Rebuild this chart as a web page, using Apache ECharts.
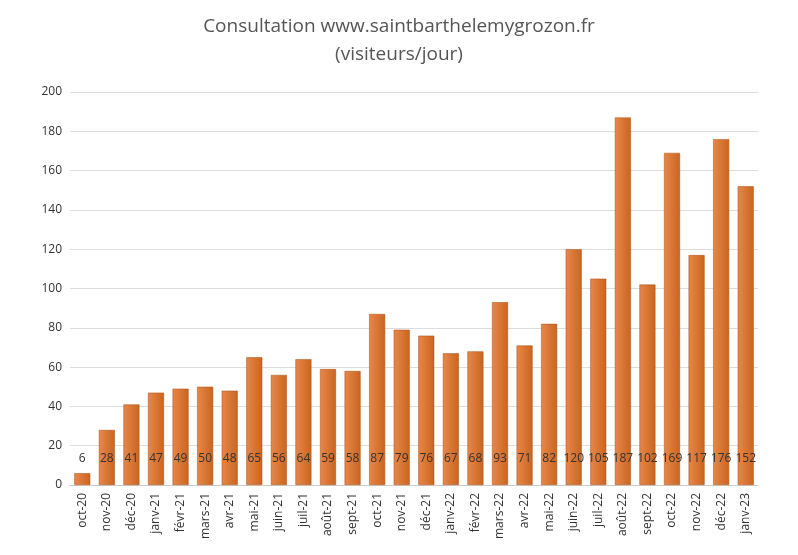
<!DOCTYPE html>
<html><head><meta charset="utf-8">
<script src="https://cdn.jsdelivr.net/npm/echarts@6/dist/echarts.min.js"></script>
<style>html,body{margin:0;padding:0;background:#fff}#c{width:798px;height:555px}</style>
</head><body><div id="c"></div>
<script>
const categories = ["oct-20","nov-20","déc-20","janv-21","févr-21","mars-21","avr-21","mai-21","juin-21","juil-21","août-21","sept-21","oct-21","nov-21","déc-21","janv-22","févr-22","mars-22","avr-22","mai-22","juin-22","juil-22","août-22","sept-22","oct-22","nov-22","déc-22","janv-23"];
const visitors = [6,28,41,47,49,50,48,65,56,64,59,58,87,79,76,67,68,93,71,82,120,105,187,102,169,117,176,152];
const yTicks = {min:0,max:200,interval:20};
const chart = echarts.init(document.getElementById('c'));
chart.setOption({
  title:{text:'Consultation www.saintbarthelemygrozon.fr\n(visiteurs/jour)',left:'center',top:8,
    textStyle:{fontFamily:'Open Sans',fontWeight:'normal',fontSize:19,color:'#555',lineHeight:28}},
  grid:{left:70,right:40,top:92,bottom:70},
  xAxis:{type:'category',data:categories,axisTick:{show:false},
    axisLine:{lineStyle:{color:'#ccc'}},
    axisLabel:{rotate:90,color:'#333',fontFamily:'Open Sans',fontSize:12,interval:0}},
  yAxis:{type:'value',min:yTicks.min,max:yTicks.max,interval:yTicks.interval,
    axisLabel:{color:'#333',fontFamily:'Open Sans',fontSize:12},
    splitLine:{lineStyle:{color:'#ddd'}}},
  series:[{type:'bar',data:visitors,barWidth:'65%',
    itemStyle:{color:{type:'linear',x:0,y:0,x2:1,y2:0,colorStops:[{offset:0,color:'#E8874A'},{offset:1,color:'#C9651F'}]},borderColor:'#A84F14',borderWidth:0.5},
    label:{show:true,position:'insideBottom',distance:20,color:'#333',fontFamily:'Open Sans',fontSize:12}}]
});
</script></body></html>
